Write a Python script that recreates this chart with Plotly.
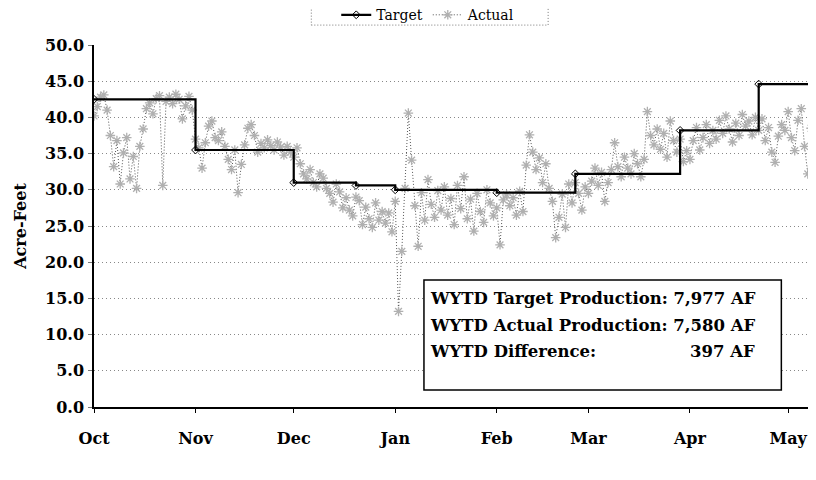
import pandas as pd
import plotly.graph_objects as go

# daily actual production, Oct 1 - May 9 (acre-feet)
actual_oct = [40.2, 41.5, 42.8, 43.1, 41.0, 37.5, 33.2, 36.8, 30.8, 35.1, 37.2, 31.5, 34.6, 30.2, 36.0, 38.4,
              41.2, 42.0, 40.5, 42.6, 43.0, 30.6, 42.2, 42.8, 41.9, 43.2, 42.5, 39.8, 41.6, 42.9, 41.0]
actual_nov = [37.0, 35.8, 33.0, 36.5, 38.8, 39.5, 37.2, 36.8, 38.0, 36.0, 34.2, 32.8, 35.5, 29.6, 33.5, 36.2,
              38.5, 39.0, 37.5, 35.2, 36.4, 35.8, 36.9, 36.1, 35.5, 36.6, 35.9, 34.8, 36.0, 35.2]
actual_dec = [34.5, 35.8, 33.6, 32.2, 31.5, 32.8, 31.0, 30.4, 32.2, 31.6, 30.2, 29.5, 28.3, 30.8, 29.7, 27.5,
              28.9, 27.2, 26.4, 29.0, 28.5, 25.2, 27.6, 26.0, 24.8, 28.2, 25.8, 27.0, 25.4, 26.8, 24.2]
actual_jan = [28.4, 13.2, 21.5, 30.2, 40.6, 34.1, 27.8, 22.2, 29.6, 25.8, 31.4, 28.0, 26.2, 29.9, 27.2, 30.4,
              26.5, 28.8, 25.2, 30.6, 27.4, 31.8, 26.0, 28.7, 24.3, 29.5, 27.0, 25.5, 30.0, 28.2, 26.4]
actual_feb = [27.5, 22.4, 28.6, 29.3, 27.8, 28.9, 26.5, 29.8, 27.0, 33.4, 37.6, 35.2, 32.8, 34.4, 31.0, 33.6,
              30.2, 28.4, 23.4, 26.2, 29.4, 24.8, 30.8, 28.2, 31.0, 29.5, 27.2, 30.4]
actual_mar = [29.5, 31.2, 33.0, 30.6, 32.4, 28.4, 31.0, 32.8, 36.5, 33.2, 31.8, 34.5, 33.0, 32.2, 35.0, 33.6,
              31.8, 34.2, 40.8, 37.5, 36.2, 38.4, 35.6, 37.8, 34.5, 39.5, 36.8, 35.2, 37.0, 33.9, 35.4]
actual_apr = [34.2, 36.8, 38.6, 35.5, 37.2, 39.0, 36.4, 38.2, 37.0, 39.6, 37.8, 40.2, 38.4, 36.6, 39.2, 37.5,
              40.4, 38.8, 39.5, 37.6, 40.0, 38.2, 39.8, 36.8, 38.6, 35.2, 33.8, 37.4, 39.0, 38.2]
actual_may = [40.8, 37.2, 35.4, 39.6, 41.2, 36.0, 32.2, 38.5, 40.6]

# target production steps (start date, acre-feet per day)
target_dates = ["2010-10-01", "2010-11-01", "2010-12-01", "2010-12-20", "2011-01-01", "2011-02-01",
                "2011-02-25", "2011-03-29", "2011-04-22", "2011-05-09"]
target_values = [42.5, 35.5, 31.0, 30.6, 30.0, 29.6, 32.2, 38.2, 44.6, 44.6]

box_lines = ["WYTD Target Production: 7,977 AF", "WYTD Actual Production: 7,580 AF", "WYTD Difference:"]
box_diff = "397 AF"

actual = (actual_oct + actual_nov + actual_dec + actual_jan + actual_feb
          + actual_mar + actual_apr + actual_may)
days = pd.date_range("2010-10-01", periods=len(actual), freq="D")

SERIF = "DejaVu Serif"

fig = go.Figure()
fig.add_trace(go.Scatter(
    x=days, y=actual, name="Actual", mode="lines+markers",
    line=dict(color="#555555", width=1, dash="1px,2px"),
    marker=dict(symbol="asterisk-open", size=8, color="#b0b0b0",
                line=dict(color="#b0b0b0", width=1.3)),
))
fig.add_trace(go.Scatter(
    x=pd.to_datetime(target_dates), y=target_values, name="Target", mode="lines+markers",
    line=dict(color="black", width=2.2, shape="hv"),
    marker=dict(symbol="diamond-open", size=6, color="black", line=dict(width=1)),
))

# summary box
fig.add_shape(type="rect", xref="paper", yref="paper", x0=0.457, x1=0.952, y0=0.047, y1=0.351,
              line=dict(color="black", width=1.5), fillcolor="white", layer="above")
for i, txt in enumerate(box_lines):
    fig.add_annotation(xref="paper", yref="paper", x=0.463, y=0.301 - i * 0.0745, text=txt,
                       showarrow=False, xanchor="left", yanchor="middle",
                       font=dict(family=SERIF, size=16.5, color="black", weight="bold"))
fig.add_annotation(xref="paper", yref="paper", x=0.918, y=0.301 - 2 * 0.0745, text=box_diff,
                   showarrow=False, xanchor="right", yanchor="middle",
                   font=dict(family=SERIF, size=16.5, color="black", weight="bold"))

# dotted frame around legend
fig.add_shape(type="rect", xref="paper", yref="paper", x0=0.301, x1=0.629, y0=1.055, y1=1.11,
              line=dict(color="#777777", width=1, dash="1px,2px"))

# the page body adds an 8px offset, so margins are shifted to compensate
fig.update_layout(
    width=816, height=480,
    margin=dict(l=86, r=8, t=37, b=81),
    paper_bgcolor="white", plot_bgcolor="white",
    font=dict(family=SERIF, color="black"),
    showlegend=True,
    legend=dict(orientation="h", xref="container", yref="container",
                x=0.515, xanchor="center", y=0.985, yanchor="middle",
                traceorder="reversed", font=dict(family=SERIF, size=14),
                bgcolor="rgba(0,0,0,0)", itemwidth=30),
)
fig.update_xaxes(
    type="date", range=["2010-10-01", "2011-05-09 12:00"], automargin=False,
    dtick="M1", tick0="2010-10-01", tickformat="%b",
    ticks="outside", ticklen=4, tickcolor="black",
    showline=True, linecolor="black", linewidth=1.5,
    showgrid=False, zeroline=False,
    tickfont=dict(family=SERIF, size=16, weight="bold"), ticklabelstandoff=12,
)
fig.update_yaxes(
    range=[0, 50], dtick=5, tickformat=".1f", automargin=False,
    showline=True, linecolor="black", linewidth=1.5,
    ticks="outside", ticklen=4, tickcolor="#777777",
    showgrid=True, gridcolor="#888888", gridwidth=1, griddash="1px,3px",
    zeroline=False,
    tickfont=dict(family=SERIF, size=16, weight="bold"), ticklabelstandoff=1,
    title=dict(text="Acre-Feet", font=dict(family=SERIF, size=16, weight="bold"), standoff=14),
)

fig.write_html("out.html")
